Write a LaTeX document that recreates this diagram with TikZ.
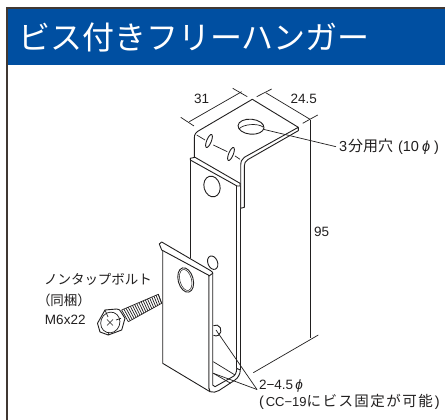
\documentclass[tikz,border=0pt]{standalone}
\usepackage{fontspec}
\setmainfont{Liberation Sans}
\newfontfamily\cjk{Noto Sans CJK JP}
\newfontfamily\cjkwide[LetterSpace=10]{Noto Sans CJK JP}
\tikzset{
  hangerLine/.style={draw=drawColor,line width=0.9pt,line join=round,fill=white},
  thinLine/.style={draw=drawColor,line width=0.7pt,line join=round},
  dimLabel/.style={text=drawColor,anchor=base west,inner sep=0pt,outer sep=0pt,font=\fontsize{13.5}{15}\selectfont},
  wideLabel/.style={dimLabel,font=\fontsize{14.5}{16}\selectfont},
}
\begin{document}
\begin{tikzpicture}[x=1pt,y=1pt]
\definecolor[named]{fillColor}{rgb}{1.00,1.00,1.00}
\definecolor[named]{drawColor}{rgb}{0.13,0.12,0.12}
\definecolor[named]{frameColor}{rgb}{0.25,0.22,0.20}
\definecolor[named]{titleColor}{rgb}{0.00,0.31,0.63}
\path[use as bounding box,fill=fillColor] (0,0) rectangle (445,420);
% title band
\begin{scope}
\path[fill=titleColor] (8,354.5) rectangle (445,411);
\path[draw=frameColor,line width=2pt] (7.2,0) -- (7.2,411.7) -- (445,411.7);
\node[text=white,anchor=base west,inner sep=0pt,outer sep=0pt,font=\cjk\fontsize{32}{36}\selectfont] (titleText) at (18.5,370) {ビス付きフリーハンガー};
\end{scope}
% far wall
\begin{scope}
\path[thinLine] (310,300) -- (310,82);
\path[thinLine] (253.3,47.3) -- (318.3,85);
\path[hangerLine] (190.7,260) -- (190.7,162);
\path[hangerLine] (240.3,236.7) -- (240.3,50);
\path[hangerLine] (236.7,234) -- (236.7,51.7);
\end{scope}
% top plate
\begin{scope}
\path[hangerLine] (194.3,262.7) -- (194.3,282) .. controls (194.3,286) and (196,288) .. (200,290) --
	(252.3,320.7) -- (298.3,292.7) -- (298.3,289.3) -- (248,260.5) .. controls (245.5,259) and (244.3,257) .. (244.3,254) --
	(244.3,212.7) -- (240.7,211.7) -- (240.7,254) .. controls (240.7,258) and (241.5,261) .. (244.3,262.7) -- (298.3,292.7);
\path[hangerLine] (190.3,261.7) -- (195,262.7) -- (240,236.7) -- (240,234) -- (237,234) -- (190.3,260) -- cycle;
\path[hangerLine] (251,293.3) ellipse [x radius=13,y radius=7.5,rotate=-5];
\path[thinLine] (239,291) .. controls (243,296) and (258,297) .. (263,293);
\path[hangerLine] (209,279) ellipse [x radius=2.3,y radius=7,rotate=-22];
\path[hangerLine] (231,266) ellipse [x radius=2.3,y radius=7,rotate=-22];
\path[thinLine] (196.7,285) -- (205,280);
\path[thinLine] (213.3,275) -- (227.3,268.3);
\path[thinLine] (235,264) -- (240,260.7);
\path[hangerLine] (212,233.5) ellipse [x radius=8,y radius=10.5,rotate=15];
\end{scope}
% front hanger
\begin{scope}
\path[hangerLine] (212.7,157.3) ellipse [x radius=4.8,y radius=7,rotate=22];
\path[hangerLine] (162.7,170) -- (162.7,56.7) -- (210,28.3) -- (209,32) -- (209,145) -- cycle;
\path[hangerLine] (212.7,147) -- (212.7,35) -- (215,33.3) -- (231.7,42.7) .. controls (235,44) and (236.7,47) .. (236.7,51.7) --
	(240.3,50) .. controls (240.3,46) and (238,42) .. (235,40) -- (219,29.5) .. controls (216,28) and (213,27) .. (210,28.3) --
	(209,32) -- (209,145) -- cycle;
\path[hangerLine] (159.3,176) -- (161.7,178) -- (210.7,149.3) .. controls (212,148) and (212.7,148) .. (212.7,146.7) -- (209,144) --
	(208.3,145) -- (205,146.7) -- (161.7,170) -- cycle;
\path[hangerLine] (185.7,140) ellipse [x radius=7.5,y radius=12.5,rotate=15];
\path[thinLine,line width=0.5pt] (185.7,140) ellipse [x radius=5.8,y radius=10.8,rotate=15];
\path[hangerLine] (213.5,94.3) arc [start angle=120,end angle=-120,x radius=5,y radius=5.5];
\path[thinLine] (213.3,58.3) -- (235,45);
\path[thinLine] (213.3,46.7) -- (230.7,36.7);
\end{scope}
% bolt
\begin{scope}
\foreach \i in {0,...,17} {
  \path[thinLine] ({121.7+2.15*\i},{110+0.92*\i}) -- ({128.3+1.96*\i},{98.3+1.08*\i});
}
\path[thinLine] (121.7,110) -- (158.3,125.7) -- (161.7,116.7) -- (128.3,98.3);
\path[hangerLine] (105,110) -- (116.7,111) .. controls (119,111) and (120,110) .. (121,108) -- (125,101.7) -- (121.7,90) -- (108.3,85) -- (100,88) -- (97.5,96.7) -- cycle;
\path[thinLine] (110.3,97.5) ellipse [x radius=9.5,y radius=10.5,rotate=-20];
\path[thinLine] (105,110) -- (108,103);
\path[thinLine] (121,101.7) -- (116,100);
\path[thinLine] (108.3,85) -- (109,88);
\path[thinLine] (107,100.5) -- (113,94.5);
\path[thinLine] (107,94.5) -- (113,100.5);
\end{scope}
% dimensions
\begin{scope}
\coordinate (dimA) at (189.3,298.3);
\coordinate (dimB) at (241.7,328.3);
\coordinate (dimC) at (265.7,327.3);
\coordinate (dimD) at (310,300.7);
\path[thinLine] (dimA) -- (dimB);
\path[thinLine] (dimC) -- (dimD);
\path[thinLine] (180.7,302.7) -- (194,294);
\path[thinLine] (232.7,331.7) -- (247.3,323.3);
\path[thinLine] (256.7,323.3) -- (271.7,331);
\path[thinLine] (302.7,296.7) -- (317.7,305);
\node[dimLabel] (dimWidth) at (194,316) {31};
\node[dimLabel] (dimDepth) at (290.5,316) {24.5};
\node[dimLabel] (dimHeight) at (314,183) {95};
\end{scope}
% labels and leaders
\begin{scope}
\node[wideLabel] (holeLabel) at (339,268) {3\kern1pt{\cjk\fontsize{15}{16}\selectfont 分用穴}\kern5pt(10\kern3pt{\itshape ϕ}\kern4pt)};
\coordinate (holeEdge) at (263.3,290.7);
\path[thinLine] (holeEdge) -- ([xshift=-3pt,yshift=0.5pt]holeLabel.west);
\node[dimLabel] (screwLabel) at (259,30) {2−4.5\,{\itshape ϕ}};
\node[wideLabel] (screwNote) at (259,13.5) {(\kern2pt{\fontsize{13}{15}\selectfont CC−19}{\cjkwide にビス固定が可能}\kern2pt)};
\coordinate (screwHole) at (216,90);
\coordinate (screwLow) at (213.3,46.7);
\path[thinLine] (screwHole) -- ([xshift=-2pt,yshift=-3pt]screwLabel.west);
\path[thinLine] (screwLow) -- ([xshift=-2pt,yshift=-3pt]screwLabel.west);
\node[dimLabel] (boltName) at (44,135) {\cjk ノンタップボルト};
\node[dimLabel] (boltPack) at (37,114) {\cjk （同梱）};
\node[dimLabel] (boltSize) at (45,95) {M6x22};
\end{scope}
\end{tikzpicture}
\end{document}
